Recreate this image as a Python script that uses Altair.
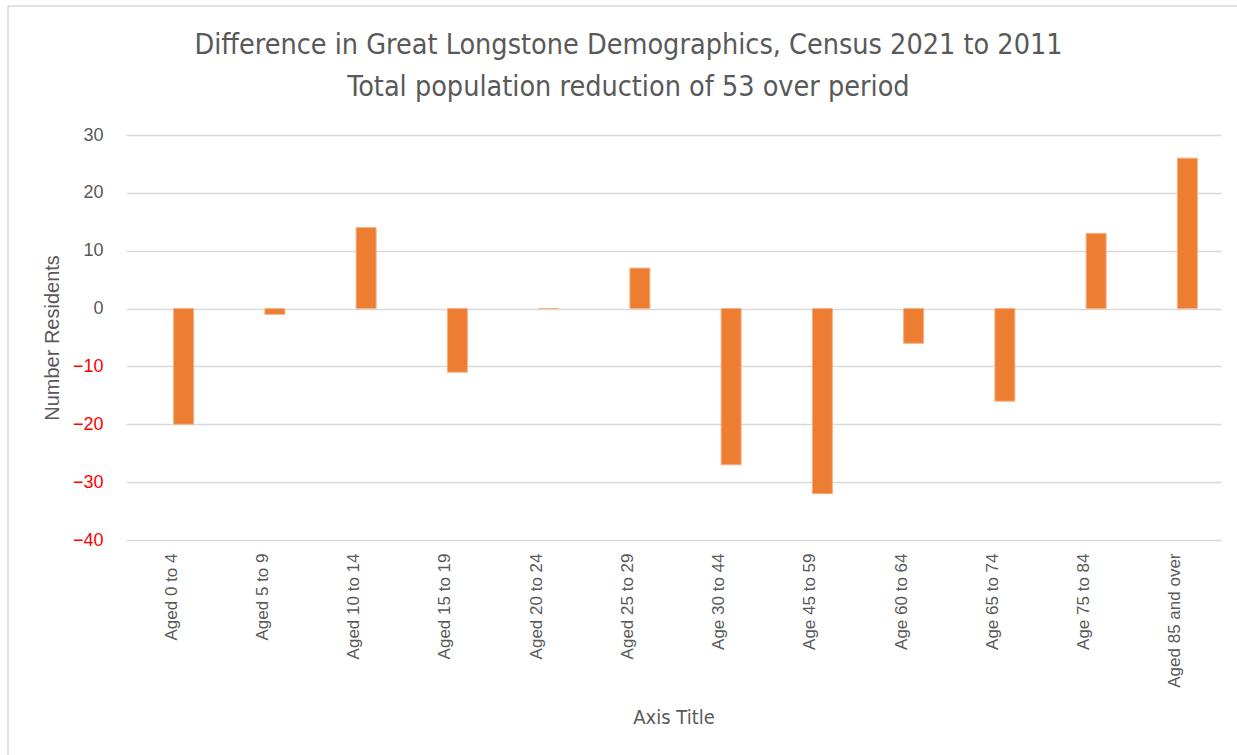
import altair as alt
import pandas as pd

categories = ["Aged 0 to 4", "Aged 5 to 9", "Aged 10 to 14", "Aged 15 to 19",
              "Aged 20 to 24", "Aged 25 to 29", "Age 30 to 44", "Age 45 to 59",
              "Age 60 to 64", "Age 65 to 74", "Age 75 to 84", "Aged 85 and over"]
differences = [-20, -1, 14, -11, 0, 7, -27, -32, -6, -16, 13, 26]
y_ticks = [-40, -30, -20, -10, 0, 10, 20, 30]

df = pd.DataFrame({"Age": categories, "Difference": differences})

grey = "#595959"
narrow = "Liberation Sans Narrow, DejaVu Sans Condensed, Roboto, sans-serif"
sans = "Liberation Sans, Arial, sans-serif"

bars = alt.Chart(df).mark_bar(
    size=20, xOffset=12, color="#ED7D31", stroke="#F4B183", strokeWidth=1
).encode(
    x=alt.X("Age:N", sort=categories,
            scale=alt.Scale(paddingInner=0, paddingOuter=0),
            axis=alt.Axis(title="Axis Title", labelAngle=270, labelAlign="right",
                          labelBaseline="middle", labelPadding=13, ticks=False,
                          domain=False, labelFontSize=17, labelColor=grey,
                          labelFont=sans,
                          titleFont=narrow, titleFontSize=20, titleFontWeight="normal",
                          titleColor=grey, titleY=177, titleBaseline="middle")),
    y=alt.Y("Difference:Q",
            scale=alt.Scale(domain=[-40, 30], nice=False, zero=False),
            axis=alt.Axis(title="Number Residents", values=y_ticks, ticks=False,
                          domain=False, grid=True, gridColor="#d9d9d9", gridWidth=1.5,
                          labelFontSize=18, labelPadding=23,
                          labelFont=sans,
                          labelColor={"expr": "datum.value < 0 ? '#FF0000' : '#595959'"},
                          titleFont=sans,
                          titleFontSize=20, titleFontWeight="normal",
                          titleColor=grey, titlePadding=10)),
)

frame = alt.Chart(pd.DataFrame({"f": [0]})).mark_rect(
    fill=None, stroke="#d9d9d9", strokeWidth=1.5
).encode(
    x=alt.value(-118), x2=alt.value(1140),
    y=alt.value(-129), y2=alt.value(640),
)

chart = alt.layer(frame, bars).properties(
    width=1095,
    height=405,
    title=alt.TitleParams(
        text=["Difference in Great Longstone Demographics, Census 2021 to 2011",
              "Total population reduction of 53 over period"],
        font=narrow, fontSize=28.5, fontWeight="normal", color=grey,
        anchor="middle", dx=-45, lineHeight=42, offset=-96,
    ),
    autosize=alt.AutoSizeParams(type="none"),
    padding={"left": 126, "top": 135, "right": 16, "bottom": 215},
).configure(background="white").configure_view(stroke=None)

chart.save("out.html", embed_options={"renderer": "svg", "actions": False})
